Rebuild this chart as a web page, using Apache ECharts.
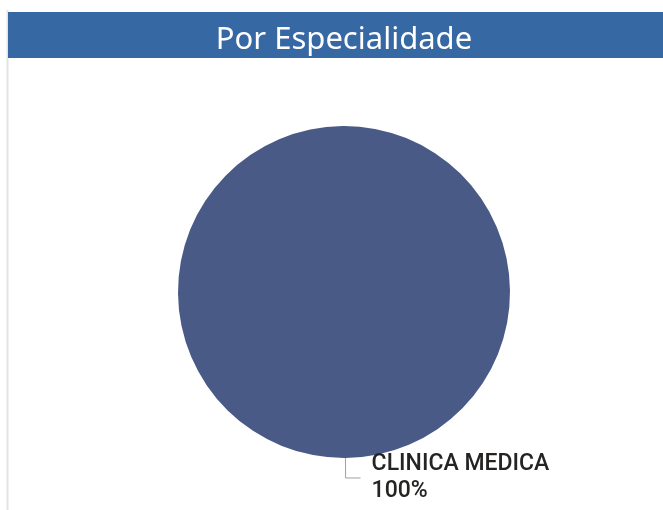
<!DOCTYPE html>
<html>
<head>
<meta charset="utf-8">
<script src="https://cdn.jsdelivr.net/npm/echarts@6/dist/echarts.min.js"></script>
<style>
  html, body { margin: 0; padding: 0; background: #fff; }
  #chart { width: 663px; height: 510px; }
</style>
</head>
<body>
<div id="chart"></div>
<script>
// dados do gráfico
const categorias = ['CLINICA MEDICA']
const valores = [100]
const cores = ['#4a5a87']

const chart = echarts.init(document.getElementById('chart'))

const option = {
  backgroundColor: '#ffffff',
  animation: false,
  graphic: [
    // borda esquerda
    {
      type: 'line',
      shape: { x1: 7.5, y1: 10, x2: 7.5, y2: 510 },
      style: { stroke: '#e4e4e4', lineWidth: 2 }
    },
    // faixa do título
    {
      type: 'rect',
      shape: { x: 8, y: 12, width: 655, height: 46 },
      style: { fill: '#3668a4' }
    },
    {
      type: 'text',
      x: 344,
      y: 40,
      style: {
        text: 'Por Especialidade',
        fill: '#ffffff',
        font: '31px "Noto Sans", sans-serif',
        align: 'center',
        verticalAlign: 'middle'
      }
    }
  ],
  series: [
    {
      type: 'pie',
      center: [344, 292],
      radius: 166,
      // começa um pouco depois de 90 para o rótulo ficar à direita
      startAngle: 90.5,
      silent: true,
      data: categorias.map((nome, i) => ({
        name: nome,
        value: valores[i],
        itemStyle: { color: cores[i] }
      })),
      label: {
        show: true,
        formatter: p => p.name + '\n' + Math.round(p.percent) + '%',
        color: '#252423',
        fontFamily: 'Roboto, sans-serif',
        fontWeight: 500,
        fontSize: 23,
        lineHeight: 27,
        padding: [0, 0, 0, 6]
      },
      labelLine: {
        show: true,
        length: 20,
        length2: 15,
        lineStyle: { color: '#a0a0a0', width: 1 }
      }
    }
  ]
}

chart.setOption(option)
</script>
</body>
</html>
